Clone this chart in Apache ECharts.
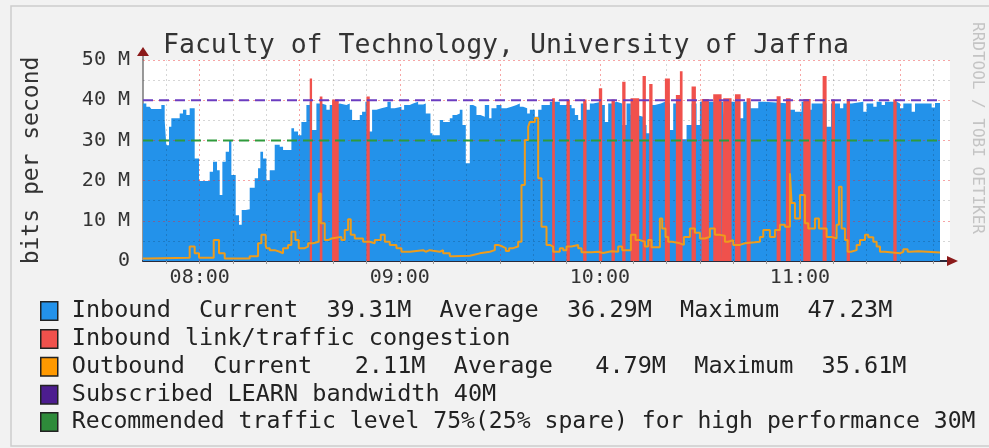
<!DOCTYPE html>
<html>
<head>
<meta charset="utf-8">
<title>Faculty of Technology, University of Jaffna</title>
<script src="https://cdn.jsdelivr.net/npm/echarts@6/dist/echarts.min.js"></script>
<style>
  html, body { margin: 0; padding: 0; background: #f2f2f2; }
  #chart { width: 989px; height: 448px; }
</style>
</head>
<body>
<div id="chart"></div>
<script>
// all x values are minutes after 07:00, y values in Mbit/s

// inbound: [minute, value] - value holds until the next point
var inbound = [
  [43, 39.2], [44, 38.4], [45, 38.8], [45.5, 37.8], [48.5, 38.8], [49.5, 35], [50, 28.8], [50.8, 33.4],
  [51.5, 35.5], [54, 36.7], [55, 37.6], [56, 36.3], [57, 38], [58.5, 25.5], [59.8, 19.9], [63, 22.2],
  [64, 24.7], [65.2, 22.6], [66, 16.4], [66.8, 24.7], [67.8, 27.2], [68.8, 30.1], [69.5, 21.4], [70.8, 11.4],
  [71.8, 9], [72.6, 12.7], [73.8, 12.9], [75, 18.2], [76.5, 20.6], [77.5, 23.1], [78.2, 27.2], [79, 25.5],
  [80, 20.1], [81, 22.6], [82.5, 28.9], [84, 28.4], [85, 27.6], [87.5, 33], [88.3, 32.2], [89.5, 31.3],
  [90.5, 34.6], [92, 38.8], [93, 39.6], [93.7, 32.6], [95, 39.2], [96.5, 38.8], [98, 37.6], [99, 38.8],
  [100.5, 39.2], [102, 38.8], [104, 39.2], [105, 37.6], [105.7, 35.1], [108, 36.3], [108.7, 37.1], [109.7, 39.6],
  [110.7, 32.2], [111.7, 37.6], [113, 38], [114.5, 38.4], [116.3, 39.6], [117.3, 38], [118.5, 38.4], [120.5, 37.6],
  [121.3, 38.8], [123, 39.2], [124, 39.6], [125.5, 38.9], [127, 39.2], [127.8, 36.7], [129.2, 31.8], [129.8, 31.3],
  [132, 35.1], [133, 34.6], [135, 35.5], [135.8, 36.3], [137, 36.7], [138, 37.6], [138.8, 33.8], [139.8, 24.3],
  [141, 38.8], [142, 38.4], [143, 36.3], [144.2, 35.9], [145.5, 38.8], [146.8, 35.5], [147.5, 38], [149, 38.8],
  [150.5, 38], [152, 38.4], [153.5, 38.8], [155, 39.2], [156, 38.4], [157, 38], [158.2, 36.7], [159, 37.6],
  [160.5, 35.9], [161.5, 37.6], [162.5, 38.8], [165, 39.6], [168, 38.8], [171.5, 38], [172.5, 36.3], [173.5, 35.1],
  [174.3, 39.2], [176, 37.6], [177, 39.2], [178, 39.6], [180.5, 38.8], [181.5, 34.6], [182.5, 39.2], [183.5, 39.6],
  [185, 39.2], [186.7, 33.8], [188, 39.2], [189.3, 36.3], [191, 35.9], [193, 33.8], [194, 31.8], [195.3, 38.8],
  [196.5, 39.2], [198.3, 39.6], [199.5, 39.2], [201, 32.6], [202, 39.2], [204.3, 30.3], [206, 33.8], [207.5, 39.2],
  [209, 33.8], [210, 39.6], [217, 37.1], [217.5, 34.2], [218.2, 39.6], [222, 35.5], [223, 39.6], [225.2, 38],
  [227.5, 39.6], [229.5, 39.2], [237, 37.6], [238.5, 37.1], [240.5, 39.6], [242.5, 37.6], [243.5, 39.2], [248, 33.4],
  [249.3, 39.2], [252, 38], [253, 39.2], [255.5, 39.6], [259, 37.1], [260, 39.2], [262, 38.4], [263, 39.6],
  [264.5, 38.8], [265.5, 39.6], [269, 39.2], [270, 38], [271, 39.2], [273.5, 37.1], [274.5, 39.2], [279.5, 38.2],
  [280.5, 39.3], [282, 39.3]
];

// congestion blocks: [from, to, height]
var congestion = [
  [93, 93.7, 45.4], [96, 96.8, 40.9], [99.7, 101.7, 40.2], [110, 111, 40.9],
  [165.7, 166.5, 40.5], [170, 171, 40.2], [175, 176, 40.2], [179.7, 180.7, 43], [183.5, 184.5, 40.2],
  [186.7, 187.7, 44.6], [189.2, 191.8, 40.5], [192.8, 193.8, 46], [194.8, 195.8, 44], [199.5, 201, 45.4],
  [202.8, 204, 41.3], [204, 204.8, 47.2], [207.5, 208.8, 43.4], [210.5, 212.7, 40.3], [214, 216.5, 41.5],
  [217, 219.5, 40.5], [220.5, 222.2, 41.5], [224, 225.2, 40.5], [233, 234.2, 41], [235.8, 237.2, 40.5],
  [241, 243.2, 40.3], [246.8, 248, 46], [249.5, 250.5, 40.2], [254, 255, 40.3], [268, 269, 40.2]
];

var outbound = [
  [43, 0.6], [44.5, 0.8], [57, 3.6], [58.5, 1.9], [59.8, 0.8], [64.2, 5.2], [65.8, 1.9], [67.5, 0.6],
  [75, 1.2], [77.5, 4.4], [78.5, 6.5], [79.8, 3.9], [80, 3.2], [81, 2.7], [82.5, 2.3], [84, 1.9],
  [85, 3.2], [86.5, 4], [87.5, 7.3], [88.7, 5.2], [89.7, 3.2], [91.5, 3.6], [92.5, 4.4], [94, 4.8],
  [95.7, 16.8], [96.3, 9.4], [97.5, 5.2], [98.5, 5.6], [99.5, 6], [102.5, 5.2], [103.5, 7.7], [104.5, 10.4],
  [105.3, 6.5], [106.5, 5.6], [109, 4.8], [111, 4.4], [112.5, 5.2], [114.3, 6.5], [115.5, 4.8], [117, 4],
  [119, 3.2], [120.5, 2.3], [123, 2.7], [127, 2.3], [127.8, 2.7], [129, 2.3], [132, 2.7], [133, 1.9],
  [135, 1.2], [136, 1.3], [141, 1.5], [142, 1.9], [144, 2.3], [147, 2.7], [148.5, 4], [149.5, 3.6],
  [150.8, 3.2], [151.8, 2.5], [152.8, 3.2], [154, 3.6], [155.5, 4.8], [156.5, 18.9], [157.5, 30.1], [158.5, 33.4],
  [159, 34.6], [160.5, 35.6], [161.5, 20.6], [162.5, 8.5], [164, 4], [165, 3.6], [166, 2.3], [168, 3.2],
  [169, 2.7], [170, 3.6], [171.5, 4], [173.5, 3.2], [174.5, 2.2], [177.5, 2.3], [179.5, 2], [181, 2.4],
  [183.5, 2.3], [185.5, 3.6], [186.7, 2.7], [189.3, 6.5], [190.7, 5.2], [192, 4.8], [193.5, 3.6], [194.5, 5.2],
  [195.5, 3.4], [198, 10.6], [198.7, 8.1], [199.7, 6], [200.5, 4.8], [201.7, 4.4], [204, 4], [205.2, 6],
  [207, 8.1], [208.5, 7], [210, 5.6], [211.5, 6], [213, 8.1], [214.5, 6.5], [216, 6.3], [217.5, 4.8],
  [218.5, 5.2], [220, 4], [222, 4.4], [223.5, 4.8], [228, 6], [229, 7.7], [231, 6], [232.5, 7.7],
  [234, 9], [235.5, 8.5], [237, 21.8], [237.5, 14.4], [238.5, 10.6], [240, 16.4], [241.5, 9.4], [242.5, 8.1],
  [244.5, 10.6], [245.7, 8.1], [248, 6], [249.5, 5.6], [251, 9], [251.7, 18.5], [252.5, 8.1], [253.5, 5.2],
  [254.3, 2.3], [255.3, 2.7], [257, 4], [258, 5.2], [259.5, 6.5], [260.5, 5.9], [262, 4.8], [263, 3.6],
  [264, 2.3], [265.5, 1.9], [270, 2.3], [271, 2.9], [272.3, 2.3], [273, 2.4], [275.5, 2.1], [282, 2.1]
];

var subscribed = 40;
var recommended = 30;
var hourTicks = [60, 120, 180, 240];
var inboundStats = ['39.31M', '36.29M', '47.23M'];
var outboundStats = [' 2.11M', ' 4.79M', '35.61M'];

var tStart = 43, tEnd = 282;
var MONO = 'DejaVu Sans Mono';

function hhmm(t) {
  var h = 7 + Math.floor(t / 60), m = t % 60;
  return (h < 10 ? '0' : '') + h + ':' + (m < 10 ? '0' : '') + m;
}

var congestionSteps = [[tStart, 0]];
congestion.forEach(function (c) {
  congestionSteps.push([c[0], c[2]], [c[1], 0]);
});
congestionSteps.push([tEnd, 0]);

// rrdtool style dotted grid, drawn on top of the areas
var gridMarks = [];
var minorX = [];
for (var t = 50; t <= 280; t += 10) {
  minorX.push(t);
  gridMarks.push({ xAxis: t, lineStyle: { color: t % 30 === 0 ? 'rgba(235,40,40,0.42)' : 'rgba(0,0,0,0.16)' } });
}
for (var v = 5; v <= 50; v += 5) {
  gridMarks.push({ yAxis: v, lineStyle: { color: v % 10 === 0 ? 'rgba(235,40,40,0.42)' : 'rgba(0,0,0,0.16)' } });
}

var names = {
  inb: 'Inbound',
  cong: 'Inbound link/traffic congestion',
  outb: 'Outbound',
  sub: 'Subscribed LEARN bandwidth 40M',
  rec: 'Recommended traffic level 75%(25% spare) for high performance 30M'
};

var chart = echarts.init(document.getElementById('chart'));

var option = {
  backgroundColor: '#f2f2f2',
  animation: false,
  title: {
    text: 'Faculty of Technology, University of Jaffna',
    left: 158,
    top: 28,
    textStyle: { fontFamily: MONO, fontSize: 26.5, fontWeight: 'normal', color: '#333' }
  },
  grid: {
    left: 143, right: 39, top: 60, bottom: 187,
    show: true, backgroundColor: '#fff', borderWidth: 0
  },
  legend: {
    orient: 'vertical',
    left: 40,
    top: 299,
    height: 148,
    padding: 0,
    itemWidth: 17,
    itemHeight: 18.5,
    itemGap: 3.9,
    icon: 'rect',
    selectedMode: false,
    itemStyle: { borderColor: '#222', borderWidth: 1.5 },
    textStyle: {
      fontFamily: MONO, fontSize: 23.5, color: '#222', padding: [0, 0, 0, 9],
      rich: { s: { fontFamily: MONO, fontSize: 23.1, color: '#222' } }
    },
    data: [names.inb, names.cong, names.outb, names.sub, names.rec],
    formatter: function (name) {
      if (name === names.inb) {
        return 'Inbound  Current  ' + inboundStats[0] + '  Average  ' + inboundStats[1] + '  Maximum  ' + inboundStats[2];
      }
      if (name === names.outb) {
        return 'Outbound  Current  ' + outboundStats[0] + '  Average  ' + outboundStats[1] + '  Maximum  ' + outboundStats[2];
      }
      if (name === names.rec) {
        return '{s|' + name + '}';
      }
      return name;
    }
  },
  xAxis: {
    type: 'value',
    min: tStart,
    max: 285,
    splitLine: { show: false },
    axisLine: { lineStyle: { color: '#2a2a3a', width: 2 } },
    axisTick: { show: true, customValues: minorX, length: 3, lineStyle: { color: '#999' } },
    axisLabel: {
      customValues: hourTicks,
      formatter: hhmm,
      fontFamily: MONO, fontSize: 20, color: '#333', margin: 7
    }
  },
  yAxis: {
    type: 'value',
    min: 0,
    max: 50,
    interval: 10,
    name: 'bits per second',
    nameLocation: 'middle',
    nameRotate: 90,
    nameGap: 99,
    nameTextStyle: { fontFamily: MONO, fontSize: 23, color: '#333' },
    splitLine: { show: false },
    axisLine: { show: true, lineStyle: { color: '#777', width: 1.5 } },
    axisTick: { show: false },
    axisLabel: {
      formatter: function (val) { return val === 0 ? '0' : val + ' M'; },
      fontFamily: MONO, fontSize: 20, color: '#333', margin: 13
    }
  },
  series: [
    {
      name: names.inb,
      type: 'line',
      step: 'end',
      symbol: 'none',
      color: '#2392ea',
      lineStyle: { width: 0 },
      areaStyle: { color: '#2392ea', opacity: 1 },
      z: 2,
      data: inbound
    },
    {
      name: 'grid',
      type: 'line',
      data: [],
      silent: true,
      z: 3,
      markLine: {
        silent: true,
        symbol: 'none',
        z: 3,
        label: { show: false },
        lineStyle: { type: [2, 3], width: 1 },
        data: gridMarks
      }
    },
    {
      name: names.cong,
      type: 'line',
      step: 'end',
      symbol: 'none',
      color: '#f0514c',
      lineStyle: { width: 0 },
      areaStyle: { color: '#f0514c', opacity: 1 },
      z: 4,
      data: congestionSteps
    },
    {
      name: names.sub,
      type: 'line',
      symbol: 'none',
      color: '#4c1d8f',
      lineStyle: { color: '#6b3cc0', width: 2, type: [10, 6] },
      z: 6,
      data: [[tStart, subscribed], [tEnd, subscribed]]
    },
    {
      name: names.rec,
      type: 'line',
      symbol: 'none',
      color: '#2e8b3a',
      lineStyle: { color: '#2f9a3c', width: 2, type: [10, 6] },
      z: 6,
      data: [[tStart, recommended], [tEnd, recommended]]
    },
    {
      name: names.outb,
      type: 'line',
      step: 'end',
      symbol: 'none',
      color: '#ff9900',
      lineStyle: { color: '#ee9c1c', width: 2 },
      z: 7,
      data: outbound
    }
  ]
};

chart.setOption(option);

// axis arrows, frame and the rrdtool watermark
var topLeft = chart.convertToPixel({ gridIndex: 0 }, [tStart, 50]);
var botRight = chart.convertToPixel({ gridIndex: 0 }, [285, 0]);
chart.setOption({
  graphic: [
    {
      type: 'rect', silent: true,
      shape: { x: 11, y: 6, width: 1000, height: 440 },
      style: { fill: 'none', stroke: '#cdcdcd', lineWidth: 1.5 }
    },
    {
      type: 'polygon', silent: true, z: 100,
      shape: { points: [[topLeft[0] - 6, topLeft[1] - 4], [topLeft[0] + 6, topLeft[1] - 4], [topLeft[0], topLeft[1] - 13]] },
      style: { fill: '#8b1a1a' }
    },
    {
      type: 'line', silent: true, z: 100,
      shape: { x1: topLeft[0], y1: topLeft[1], x2: topLeft[0], y2: topLeft[1] - 4 },
      style: { stroke: '#777', lineWidth: 1.5 }
    },
    {
      type: 'polygon', silent: true, z: 100,
      shape: { points: [[botRight[0] - 3, botRight[1] - 5], [botRight[0] - 3, botRight[1] + 5], [botRight[0] + 8, botRight[1]]] },
      style: { fill: '#8b1a1a' }
    },
    {
      type: 'text', silent: true,
      x: 977, y: 22, rotation: -Math.PI / 2,
      style: { text: 'RRDTOOL / TOBI OETIKER', font: '16px "DejaVu Sans Mono"', fill: '#c4c4c4', textAlign: 'left', textVerticalAlign: 'middle' }
    }
  ]
});
</script>
</body>
</html>
